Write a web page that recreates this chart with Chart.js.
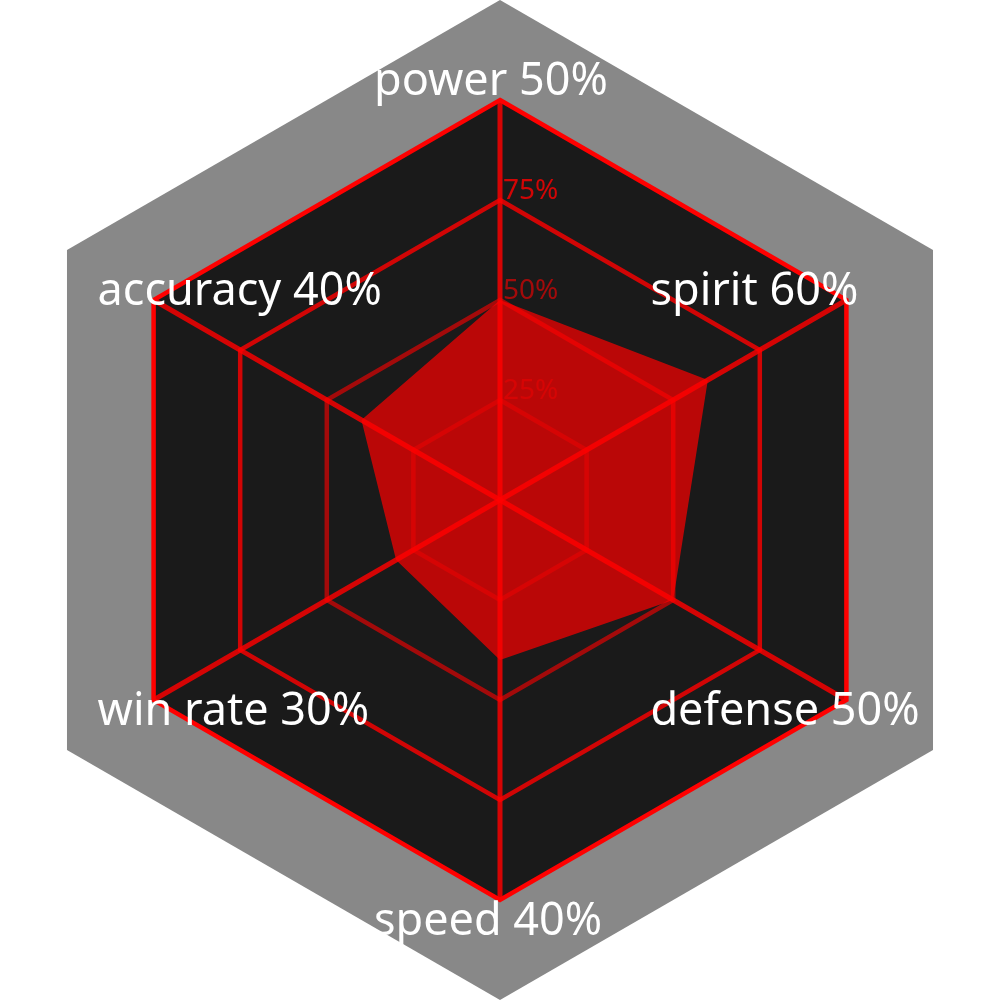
<!DOCTYPE html>
<html>
<head>
<meta charset="utf-8">
<script src="https://cdn.jsdelivr.net/npm/chart.js@4.4.1/dist/chart.umd.min.js"></script>
<style>
  html, body { margin: 0; padding: 0; background: #fff; }
  #wrap { position: relative; width: 1000px; height: 1000px; }
</style>
</head>
<body>
<div id="wrap"><canvas id="radar"></canvas></div>
<script>
const categories = ['power', 'spirit', 'defense', 'speed', 'win rate', 'accuracy'];
const values     = [50, 60, 50, 40, 30, 40];
const tickValues = [25, 50, 75];
const scaleMax   = 100;
const frameMax   = 125;
const labelAt    = 105;

const FONT = '"Noto Sans", "Open Sans", sans-serif';

// rings get stronger towards the outside: 25 -> .4 ... 100 -> 1
const ringAlpha = v => 0.2 + 0.8 * v / scaleMax;

function hexPath(ctx, r, value) {
  const d = r.getDistanceFromCenterForValue(value);
  ctx.beginPath();
  categories.forEach((_, i) => {
    const p = r.getPointPosition(i, d);
    if (i === 0) ctx.moveTo(p.x, p.y); else ctx.lineTo(p.x, p.y);
  });
  ctx.closePath();
}

const backdrop = {
  id: 'backdrop',
  beforeDraw(chart) {
    const { ctx, scales: { r } } = chart;
    ctx.save();
    hexPath(ctx, r, frameMax);
    ctx.fillStyle = '#888888';
    ctx.fill();
    ctx.restore();
  }
};

const tickText = {
  id: 'tickText',
  beforeDatasetsDraw(chart) {
    const { ctx, scales: { r } } = chart;
    ctx.save();
    ctx.font = '28px ' + FONT;
    ctx.textAlign = 'left';
    ctx.textBaseline = 'alphabetic';
    tickValues.forEach(v => {
      const y = r.yCenter - r.getDistanceFromCenterForValue(v);
      ctx.fillStyle = `rgba(255,0,0,${ringAlpha(v)})`;
      ctx.fillText(v + '%', r.xCenter + 3, y - 1);
    });
    ctx.restore();
  }
};

const pointText = {
  id: 'pointText',
  afterDraw(chart) {
    const { ctx, scales: { r } } = chart;
    const d = r.getDistanceFromCenterForValue(labelAt);
    ctx.save();
    ctx.font = '45px ' + FONT;
    ctx.fillStyle = '#ffffff';
    ctx.textAlign = 'left';
    ctx.textBaseline = 'middle';
    categories.forEach((c, i) => {
      const p = r.getPointPosition(i, d);
      const x = r.xCenter + (p.x - r.xCenter) * 0.76 - 126;
      ctx.fillText(`${c} ${values[i]}%`, x, p.y + 2);
    });
    ctx.restore();
  }
};

new Chart(document.getElementById('radar'), {
  type: 'radar',
  data: {
    labels: categories,
    datasets: [{
      data: values,
      backgroundColor: 'rgba(255,0,0,0.7)',
      borderWidth: 0,
      pointRadius: 0,
      fill: true
    }]
  },
  options: {
    responsive: true,
    maintainAspectRatio: false,
    animation: false,
    layout: { padding: 100 },
    plugins: {
      legend: { display: false },
      tooltip: { enabled: false }
    },
    scales: {
      r: {
        min: 0,
        max: scaleMax,
        backgroundColor: '#1a1a1a',
        ticks: { stepSize: 25, display: false },
        pointLabels: { display: false },
        grid: {
          color: c => `rgba(255,0,0,${ringAlpha(c.tick.value)})`,
          lineWidth: 4.5
        },
        angleLines: { color: 'rgba(255,0,0,0.82)', lineWidth: 5 }
      }
    }
  },
  plugins: [backdrop, tickText, pointText]
});
</script>
</body>
</html>
